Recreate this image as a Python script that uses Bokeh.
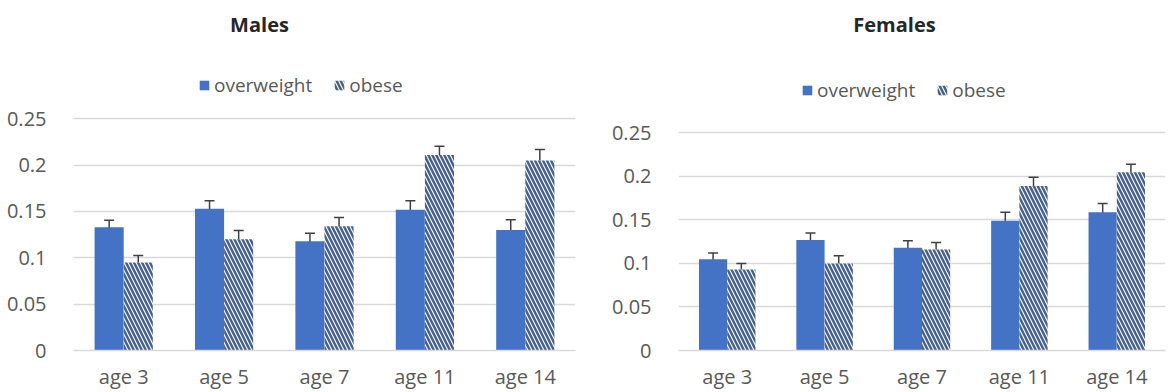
from bokeh.plotting import figure
from bokeh.models import (ColumnDataSource, FactorRange, Range1d, FixedTicker, Whisker,
                          TeeHead, Legend, LegendItem, Label)
from bokeh.transform import dodge
from bokeh.layouts import row
from bokeh.embed import file_html
from bokeh.resources import INLINE

# ---- data ----
ages = ["age 3", "age 5", "age 7", "age 11", "age 14"]
series_names = ["overweight", "obese"]
y_ticks = [0, 0.05, 0.1, 0.15, 0.2, 0.25]
y_tick_labels = {0: "0", 0.05: "0.05", 0.1: "0.1", 0.15: "0.15", 0.2: "0.2", 0.25: "0.25"}

male_overweight = [0.133, 0.153, 0.118, 0.152, 0.130]
male_overweight_err = [0.0075, 0.0085, 0.0085, 0.0095, 0.011]
male_obese = [0.095, 0.120, 0.134, 0.211, 0.205]
male_obese_err = [0.0075, 0.0095, 0.0095, 0.0095, 0.012]

female_overweight = [0.105, 0.127, 0.118, 0.149, 0.159]
female_overweight_err = [0.007, 0.008, 0.008, 0.010, 0.010]
female_obese = [0.093, 0.100, 0.116, 0.189, 0.205]
female_obese_err = [0.007, 0.009, 0.008, 0.010, 0.009]

BLUE = "#4472C4"
HATCH = "#46618A"
GRID = "#D9D9D9"
TXT = "#595959"
FONT = "Open Sans"


def make_chart(title, ow, ow_err, ob, ob_err, width, left, right, bottom,
               px_per_unit, title_px, title_y_px, legend_xy):
    height = 392
    frame_h = height - bottom
    frame_w = width - left - right
    src = ColumnDataSource(dict(
        age=ages,
        ow=ow, ow_lo=[v - e for v, e in zip(ow, ow_err)], ow_hi=[v + e for v, e in zip(ow, ow_err)],
        ob=ob, ob_lo=[v - e for v, e in zip(ob, ob_err)], ob_hi=[v + e for v, e in zip(ob, ob_err)],
    ))
    p = figure(width=width, height=height, output_backend="svg", toolbar_location=None,
               x_range=FactorRange(*ages, range_padding=0),
               y_range=Range1d(0, frame_h / px_per_unit),
               min_border_left=left, min_border_right=right,
               min_border_top=0, min_border_bottom=bottom)
    p.outline_line_color = None
    p.background_fill_color = "white"
    p.border_fill_color = "white"

    r1 = p.vbar(x=dodge("age", -0.145, range=p.x_range), top="ow", width=0.29, source=src,
                fill_color=BLUE, line_color=None)
    r2 = p.vbar(x=dodge("age", 0.145, range=p.x_range), top="ob", width=0.29, source=src,
                fill_color="white", line_color=None, hatch_pattern="\\",
                hatch_color=HATCH, hatch_scale=8, hatch_weight=2.5)

    for off, lo, hi in [(-0.145, "ow_lo", "ow_hi"), (0.145, "ob_lo", "ob_hi")]:
        w = Whisker(source=src, base=dodge("age", off, range=p.x_range), lower=lo, upper=hi,
                    dimension="height", line_color="#404040", line_width=1.5,
                    upper_head=TeeHead(size=10, line_color="#404040", line_width=1.5),
                    lower_head=TeeHead(size=10, line_color="#404040", line_width=1.5))
        p.add_layout(w)

    # axes
    p.yaxis.ticker = FixedTicker(ticks=y_ticks)
    p.yaxis.major_label_overrides = y_tick_labels
    p.yaxis.axis_line_color = None
    p.yaxis.major_tick_line_color = None
    p.yaxis.minor_tick_line_color = None
    p.yaxis.major_label_standoff = 21
    p.yaxis.major_label_text_font = FONT
    p.yaxis.major_label_text_font_size = "20px"
    p.yaxis.major_label_text_color = TXT

    p.xaxis.axis_line_color = GRID
    p.xaxis.axis_line_width = 1.5
    p.xaxis.major_tick_line_color = None
    p.xaxis.minor_tick_line_color = None
    p.xaxis.major_label_standoff = 6
    p.xaxis.major_label_text_font = FONT
    p.xaxis.major_label_text_font_size = "20px"
    p.xaxis.major_label_text_color = TXT

    p.xgrid.grid_line_color = None
    p.ygrid.ticker = FixedTicker(ticks=y_ticks)
    p.ygrid.grid_line_color = GRID
    p.ygrid.grid_line_width = 1.5

    # title
    tx = (title_px - left) / frame_w * len(ages)
    ty = (frame_h - title_y_px) / px_per_unit
    p.add_layout(Label(x=tx, y=ty, text=title, text_align="center", text_baseline="middle",
                       text_font=FONT, text_font_style="bold", text_font_size="20px",
                       text_color="#262626"))

    legend = Legend(items=[LegendItem(label=series_names[0], renderers=[r1]),
                           LegendItem(label=series_names[1], renderers=[r2])],
                    location=legend_xy, orientation="horizontal", padding=0, margin=0,
                    spacing=21, label_standoff=4, glyph_width=12, glyph_height=12,
                    border_line_color=None, background_fill_alpha=0,
                    label_text_font=FONT, label_text_font_size="19px", label_text_color=TXT)
    p.add_layout(legend)
    return p


males = make_chart("Males", male_overweight, male_overweight_err, male_obese, male_obese_err,
                   width=590, left=73, right=15, bottom=37, px_per_unit=940,
                   title_px=259, title_y_px=24, legend_xy=(125, 252))
females = make_chart("Females", female_overweight, female_overweight_err, female_obese,
                     female_obese_err, width=583, left=88, right=8, bottom=38, px_per_unit=880,
                     title_px=304, title_y_px=24, legend_xy=(123, 247))

layout = row(males, females)
open("out.html", "w").write(file_html(layout, INLINE))
